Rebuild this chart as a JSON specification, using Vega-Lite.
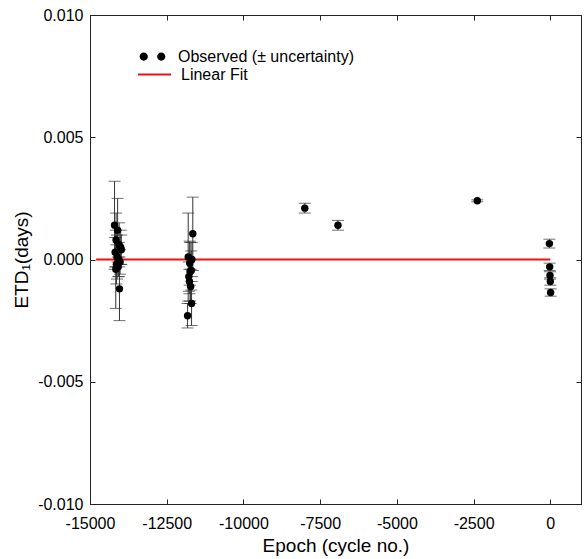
{
  "$schema": "https://vega.github.io/schema/vega-lite/v6.json",
  "autosize": {"type": "none"},
  "width": 491,
  "height": 489,
  "padding": {"left": 90, "top": 15, "right": 3, "bottom": 55},
  "background": "white",
  "config": {
    "locale": {"number": {"decimal": ".", "thousands": "", "grouping": [3], "currency": ["$", ""], "minus": "-"}},
    "font": "Liberation Sans",
    "view": {"stroke": "#222", "strokeWidth": 1},
    "axis": {
      "grid": false,
      "domainColor": "#222",
      "tickColor": "#222",
      "labelColor": "black",
      "titleColor": "black",
      "labelFont": "Liberation Sans",
      "titleFont": "Liberation Sans",
      "labelFontSize": 16,
      "titleFontSize": 19,
      "titleFontWeight": "normal",
      "labelFlush": false,
      "labelOverlap": false,
      "tickSize": -5
    },
    "legend": {
      "labelFont": "Liberation Sans",
      "labelFontSize": 16,
      "labelColor": "black",
      "labelLimit": 400,
      "padding": 0
    }
  },
  "datasets": {
    "obs": [
      {"epoch": -14200, "etd": 0.0014, "err": 0.0018},
      {"epoch": -14150, "etd": 0.0008, "err": 0.0011},
      {"epoch": -14100, "etd": 0.0012, "err": 0.0013},
      {"epoch": -14050, "etd": 0.0006, "err": 0.0009},
      {"epoch": -14000, "etd": 0.0005, "err": 0.0007},
      {"epoch": -14180, "etd": 0.0003, "err": 0.0006},
      {"epoch": -14120, "etd": 0.0001, "err": 0.0009},
      {"epoch": -14060, "etd": 0.0, "err": 0.0007},
      {"epoch": -14020, "etd": -0.0001, "err": 0.0005},
      {"epoch": -14140, "etd": -0.0002, "err": 0.0008},
      {"epoch": -14080, "etd": -0.0003, "err": 0.0004},
      {"epoch": -13980, "etd": 0.0004, "err": 0.0006},
      {"epoch": -14040, "etd": -0.0012, "err": 0.0013},
      {"epoch": -14160, "etd": -0.0004, "err": 0.0016},
      {"epoch": -11650, "etd": 0.00105, "err": 0.0015},
      {"epoch": -11800, "etd": 0.0001, "err": 0.0018},
      {"epoch": -11750, "etd": -0.00015, "err": 0.0009},
      {"epoch": -11700, "etd": -0.00045, "err": 0.0008},
      {"epoch": -11780, "etd": -0.0007, "err": 0.0006},
      {"epoch": -11720, "etd": -0.0011, "err": 0.0007},
      {"epoch": -11760, "etd": -0.0009, "err": 0.0005},
      {"epoch": -11690, "etd": -0.0018, "err": 0.0009},
      {"epoch": -11820, "etd": -0.0023, "err": 0.0005},
      {"epoch": -11740, "etd": -0.0005, "err": 0.0012},
      {"epoch": -11680, "etd": 0.0, "err": 0.0007},
      {"epoch": -8000, "etd": 0.0021, "err": 0.0002},
      {"epoch": -6920, "etd": 0.0014, "err": 0.0002},
      {"epoch": -2380, "etd": 0.0024, "err": 0.00004},
      {"epoch": -30, "etd": 0.00065, "err": 0.00018},
      {"epoch": -20, "etd": -0.0003, "err": 0.00015},
      {"epoch": -10, "etd": -0.00065, "err": 0.00015},
      {"epoch": 0, "etd": -0.0009, "err": 0.00015},
      {"epoch": 10, "etd": -0.00135, "err": 0.00015}
    ],
    "fit": [
      {"epoch": -14800, "etd": 0, "series": "Linear Fit"},
      {"epoch": 0, "etd": 0, "series": "Linear Fit"}
    ]
  },
  "resolve": {"scale": {"x": "independent", "y": "independent"}},
  "layer": [
    {
      "data": {"name": "obs"},
      "mark": {"type": "errorbar", "ticks": {"size": 12, "color": "#333"}, "color": "#333", "thickness": 1},
      "encoding": {
        "x": {"field": "epoch", "type": "quantitative", "scale": {"domain": [-15000, 1000], "nice": false, "zero": false},
              "axis": {"title": "Epoch (cycle no.)", "orient": "bottom", "values": [-15000, -12500, -10000, -7500, -5000, -2500, 0], "format": "d", "labelPadding": 16, "titlePadding": 5}},
        "y": {"field": "etd", "type": "quantitative", "scale": {"domain": [-0.01, 0.01], "nice": false, "zero": false},
              "axis": {"title": "ETD₁(days)", "orient": "left", "values": [-0.01, -0.005, 0, 0.005, 0.01], "format": ".3f", "labelPadding": 12, "titlePadding": 6}},
        "yError": {"field": "err"}
      }
    },
    {
      "data": {"name": "fit"},
      "mark": {"type": "line", "strokeWidth": 2},
      "encoding": {
        "x": {"field": "epoch", "type": "quantitative", "scale": {"domain": [-15000, 1000], "nice": false, "zero": false},
              "axis": {"orient": "top", "labels": false, "title": null, "domain": false, "values": [-15000, -12500, -10000, -7500, -5000, -2500, 0]}},
        "y": {"field": "etd", "type": "quantitative", "scale": {"domain": [-0.01, 0.01], "nice": false, "zero": false},
              "axis": {"orient": "right", "labels": false, "title": null, "domain": false, "values": [-0.01, -0.005, 0, 0.005, 0.01]}},
        "stroke": {"field": "series", "type": "nominal", "scale": {"domain": ["Linear Fit"], "range": ["#ee1111"]},
                   "legend": {"title": null, "orient": "none", "legendX": 47, "legendY": 42, "symbolType": "stroke", "symbolSize": 1089, "symbolStrokeWidth": 2, "labelOffset": 9}}
      }
    },
    {
      "data": {"name": "obs"},
      "transform": [{"calculate": "'Observed (± uncertainty)'", "as": "series"}],
      "mark": {"type": "point", "filled": true, "size": 55, "opacity": 1},
      "encoding": {
        "x": {"field": "epoch", "type": "quantitative", "scale": {"domain": [-15000, 1000], "nice": false, "zero": false}, "axis": null},
        "y": {"field": "etd", "type": "quantitative", "scale": {"domain": [-0.01, 0.01], "nice": false, "zero": false}, "axis": null},
        "color": {"field": "series", "type": "nominal", "scale": {"domain": ["Observed (± uncertainty)"], "range": ["black"]},
                  "legend": {"title": null, "orient": "none", "legendX": 46, "legendY": 25, "symbolType": "M-0.78,0 A0.25,0.25 0 1,1 -0.28,0 A0.25,0.25 0 1,1 -0.78,0 Z M0.28,0 A0.25,0.25 0 1,1 0.78,0 A0.25,0.25 0 1,1 0.28,0 Z", "symbolSize": 1089, "symbolStrokeWidth": 0, "labelOffset": 9}}
      }
    }
  ]
}
